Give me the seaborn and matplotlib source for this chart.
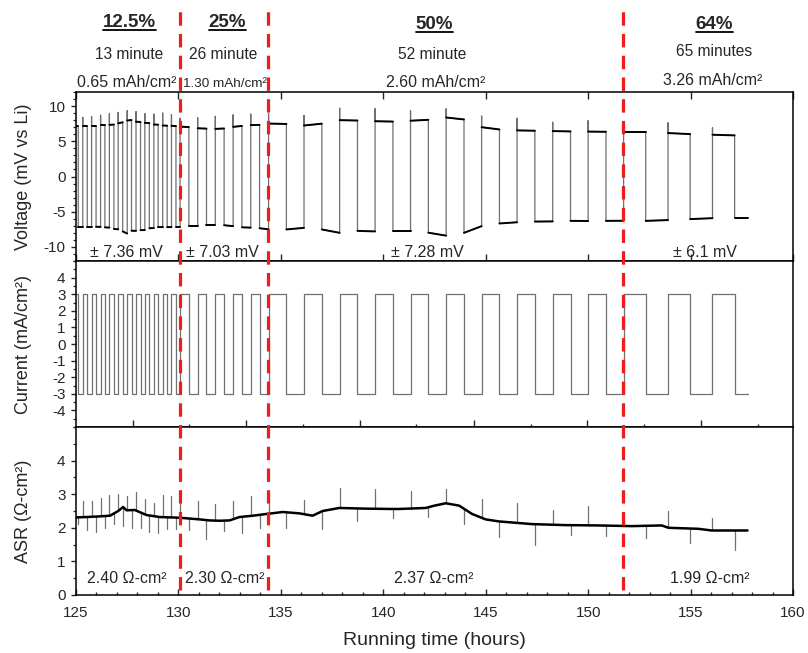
import numpy as np
import pandas as pd
import matplotlib
matplotlib.use("Agg")
import matplotlib.pyplot as plt
import matplotlib.transforms as mtransforms
from matplotlib.lines import Line2D
from matplotlib.ticker import MultipleLocator, FixedLocator, NullLocator
import seaborn as sns

sns.set_style("ticks")
plt.rcParams["font.family"] = ["Liberation Sans", "DejaVu Sans"]
plt.rcParams["axes.unicode_minus"] = False

# ---------------- data ----------------
t_start = 125.0
t_end = 157.78
current_levels = [3.0, -3.0]

# times where current switches from - to + (rises) and + to - (falls), hours
rise_times = [125.33, 125.76, 126.20, 126.63, 127.06, 127.50, 127.93, 128.36, 128.80, 129.23, 129.66,
              130.08, 130.94, 131.80, 132.67, 133.53,
              134.40, 136.13, 137.87, 139.60, 141.33, 143.07, 144.80, 146.53, 148.27, 150.00,
              151.73, 153.90, 156.07]
fall_times = [125.11, 125.55, 125.98, 126.41, 126.85, 127.28, 127.71, 128.15, 128.58, 129.01, 129.45, 129.88,
              130.51, 131.37, 132.23, 133.10, 133.96,
              135.27, 137.00, 138.74, 140.47, 142.20, 143.94, 145.67, 147.40, 149.14, 150.87,
              152.81, 154.98, 157.15]

# voltage plateaus (mV)
pos_start = [7.14,
             7.14, 7.20, 7.29, 7.33, 7.55, 7.95, 7.78, 7.62, 7.38, 7.24, 7.19,
             7.08, 6.85, 6.76, 7.05, 7.30,
             7.52, 7.24, 8.00, 7.85, 7.92, 8.38, 7.00, 6.55, 6.45, 6.38,
             6.35, 6.17, 5.93]
pos_end = [7.14,
           7.14, 7.20, 7.29, 7.38, 7.70, 8.02, 7.74, 7.58, 7.36, 7.22, 7.17,
           7.02, 6.80, 6.82, 7.18, 7.33,
           7.46, 7.50, 7.95, 7.80, 8.05, 8.10, 6.68, 6.50, 6.40, 6.35,
           6.35, 6.02, 5.84]
v_spike = [8.40, 8.52, 8.70, 8.92, 9.10, 9.35, 9.20, 8.92, 8.85, 9.00, 8.80,
           8.25, 8.35, 8.55, 8.75, 8.86,
           8.90, 8.67, 9.70, 9.62, 9.35, 9.60, 8.57, 8.26, 7.70, 7.92,
           6.60, 7.62, 6.95]
neg_start = [-7.14, -7.14, -7.14, -7.22, -7.45, -7.80, -7.70, -7.62, -7.35, -7.24, -7.19, -7.14,
             -7.00, -6.86, -6.92, -7.22, -7.35,
             -7.52, -7.52, -7.72, -7.76, -7.98, -8.00, -6.67, -6.40, -6.30, -6.30,
             -6.30, -6.05, -5.84]
neg_end = [-7.14, -7.14, -7.16, -7.26, -7.50, -8.10, -7.72, -7.60, -7.32, -7.24, -7.18, -7.14,
           -7.00, -6.86, -7.05, -7.26, -7.50,
           -7.29, -8.00, -7.80, -7.76, -8.40, -7.05, -6.50, -6.38, -6.32, -6.28,
           -6.19, -5.92, -5.84]

# ASR baseline (Ohm-cm2)
asr_t = [125.0, 125.5, 126.17, 126.66, 127.06, 127.3, 127.47, 127.87, 128.44, 129.09, 130.06,
         131.04, 131.5, 132.01, 132.5, 132.98, 133.63, 134.28, 135.09, 135.9, 136.55, 137.04,
         137.85, 139.15, 140.45, 140.77, 142.07, 142.5, 143.05, 143.7, 144.34, 145.0, 145.64,
         147.26, 148.89, 150.51, 152.13, 153.59, 153.92, 155.38, 156.03, 157.78]
asr_v = [2.31, 2.32, 2.34, 2.36, 2.50, 2.62, 2.52, 2.53, 2.38, 2.32, 2.30,
         2.25, 2.22, 2.21, 2.22, 2.32, 2.36, 2.41, 2.47, 2.43, 2.36, 2.50,
         2.59, 2.57, 2.56, 2.56, 2.59, 2.66, 2.73, 2.66, 2.41, 2.25, 2.19,
         2.11, 2.08, 2.07, 2.05, 2.07, 2.00, 1.97, 1.92, 1.92]
asr_up = [2.80, 2.80, 2.90, 2.98, 3.00, 2.95, 3.08, 2.87, 2.75, 2.97, 2.94,
          2.85, 2.80, 2.72, 2.80, 2.94,
          3.05, 2.82, 3.19, 3.15, 3.10, 3.15, 2.85, 2.75, 2.53, 2.65,
          2.30, 2.51, 2.28]
asr_down = [2.10,
            1.92, 1.88, 2.00, 2.11, 2.04, 1.98, 1.98, 1.87, 1.84, 1.95, 1.95,
            1.92, 1.67, 1.89, 1.85, 1.99,
            2.00, 1.97, 2.19, 2.30, 2.33, 2.11, 1.72, 1.50, 1.80, 1.77,
            1.70, 1.54, 1.33]

boundaries = [130.06, 134.36, 151.70]

rates = ["12.5%", "25%", "50%", "64%"]
durations = ["13 minute", "26 minute", "52 minute", "65 minutes"]
capacities = ["0.65 mAh/cm²", "1.30 mAh/cm²", "2.60 mAh/cm²", "3.26 mAh/cm²"]
volt_labels = ["± 7.36 mV", "± 7.03 mV", "± 7.28 mV", "± 6.1 mV"]
asr_labels = ["2.40 Ω-cm²", "2.30 Ω-cm²", "2.37 Ω-cm²", "1.99 Ω-cm²"]

# ---------------- build series ----------------
vt, vv = [t_start, fall_times[0]], [pos_start[0], pos_end[0]]
plat = [(0, t_start, pos_start[0]), (0, fall_times[0], pos_end[0])]
seg = 1
n = len(fall_times)
for i in range(n):
    f = fall_times[i]
    nxt = rise_times[i] if i < len(rise_times) else t_end
    vt += [f, nxt]
    vv += [neg_start[i], neg_end[i]]
    plat += [(seg, f, neg_start[i]), (seg, nxt, neg_end[i])]
    seg += 1
    if i < len(rise_times):
        f2 = fall_times[i + 1]
        vt += [nxt, nxt, f2]
        vv += [v_spike[i], pos_start[i + 1], pos_end[i + 1]]
        plat += [(seg, nxt, pos_start[i + 1]), (seg, f2, pos_end[i + 1])]
        seg += 1
volt_df = pd.DataFrame({"t": vt, "v": vv})
plat_df = pd.DataFrame(plat, columns=["seg", "t", "v"])

ct, cv = [t_start, fall_times[0]], [current_levels[0], current_levels[0]]
for i in range(n):
    f = fall_times[i]
    nxt = rise_times[i] if i < len(rise_times) else t_end
    ct += [f, nxt]
    cv += [current_levels[1], current_levels[1]]
    if i < len(rise_times):
        ct += [nxt, fall_times[i + 1]]
        cv += [current_levels[0], current_levels[0]]
cur_df = pd.DataFrame({"t": ct, "i": cv})

asr_df = pd.DataFrame({"t": asr_t, "asr": asr_v})
sp = []
k = 0
for tt, val in list(zip(rise_times, asr_up)) + list(zip(fall_times, asr_down)):
    base = float(np.interp(tt, asr_t, asr_v))
    sp += [(k, tt, base), (k, tt, val)]
    k += 1
spike_df = pd.DataFrame(sp, columns=["seg", "t", "asr"])

# ---------------- figure ----------------
W, H = 808, 653
fig = plt.figure(figsize=(W / 100, H / 100), dpi=100)
L = 76 / W
Wd = (793 - 76) / W
axV = fig.add_axes([L, 1 - 261 / H, Wd, 169 / H])
axI = fig.add_axes([L, 1 - 427 / H, Wd, 166 / H])
axA = fig.add_axes([L, 1 - 595 / H, Wd, 168 / H])

sns.lineplot(data=volt_df, x="t", y="v", sort=False, estimator=None, ax=axV,
             color="#707070", lw=0.9)
sns.lineplot(data=plat_df, x="t", y="v", units="seg", sort=False, estimator=None, ax=axV,
             color="black", lw=1.4)
sns.lineplot(data=cur_df, x="t", y="i", sort=False, estimator=None, ax=axI,
             color="#707070", lw=0.9)
sns.lineplot(data=spike_df, x="t", y="asr", units="seg", sort=False, estimator=None, ax=axA,
             color="#707070", lw=0.9)
sns.lineplot(data=asr_df, x="t", y="asr", sort=False, estimator=None, ax=axA,
             color="black", lw=1.8)

for ax in (axV, axI, axA):
    ax.set_xlim(125, 160)
    for s in ax.spines.values():
        s.set_visible(True)
        s.set_linewidth(1.1)
        s.set_color("black")
    ax.set_xlabel("")
    ax.tick_params(axis="y", which="major", direction="out", length=3.5, width=1.0,
                   labelsize=11, pad=4, left=True, right=False)
    ax.tick_params(axis="y", which="minor", direction="out", length=2, width=0.9,
                   left=True, right=False)

axV.set_ylim(-12, 12)
axV.yaxis.set_major_locator(FixedLocator([-10, -5, 0, 5, 10]))
axV.yaxis.set_minor_locator(MultipleLocator(1))
axV.xaxis.set_major_locator(MultipleLocator(5))
axV.xaxis.set_minor_locator(NullLocator())
axV.tick_params(axis="x", which="major", direction="in", top=True, bottom=True,
                labelbottom=False, length=5, width=1.0)

axI.set_ylim(-5, 5)
axI.yaxis.set_major_locator(FixedLocator(list(range(-4, 5))))
axI.yaxis.set_minor_locator(MultipleLocator(0.5))
axI.xaxis.set_major_locator(FixedLocator([127.76, 133.31, 138.86, 144.41, 149.96, 155.51]))
axI.xaxis.set_minor_locator(FixedLocator([130.52, 136.07, 141.62, 147.19, 152.75, 158.30]))
axI.tick_params(axis="x", which="major", direction="in", top=False, bottom=True,
                labelbottom=False, length=5, width=1.0)
axI.tick_params(axis="x", which="minor", direction="in", top=False, bottom=True, length=2.5, width=1.0)

axA.set_ylim(0, 5)
axA.yaxis.set_major_locator(FixedLocator([0, 1, 2, 3, 4]))
axA.yaxis.set_minor_locator(MultipleLocator(0.5))
axA.xaxis.set_major_locator(MultipleLocator(5))
axA.xaxis.set_minor_locator(MultipleLocator(1))
axA.tick_params(axis="x", which="major", direction="in", top=False, bottom=True,
                length=4, width=1.0, labelsize=11, pad=8)
axA.tick_params(axis="x", which="minor", direction="in", top=False, bottom=True, length=2.5, width=1.0)

axV.set_ylabel("Voltage (mV vs Li)", fontsize=13)
axI.set_ylabel("Current (mA/cm²)", fontsize=13)
axA.set_ylabel("ASR (Ω-cm²)", fontsize=13)
for ax in (axV, axI, axA):
    ax.yaxis.set_label_coords(-0.062, 0.5)
axA.set_xlabel("Running time (hours)", fontsize=14)
axA.xaxis.set_label_coords(0.5, -0.222)

# header texts (data x, axes-fraction y of the voltage panel)
trV = mtransforms.blended_transform_factory(axV.transData, axV.transAxes)
rate_x = [127.63, 132.40, 142.5, 156.16]
rate_y = [1.414, 1.414, 1.402, 1.402]
dur_x = [127.58, 132.2, 142.4, 156.16]
dur_y = [1.219, 1.219, 1.219, 1.237]
cap_x = [127.48, 132.25, 142.55, 156.06]
cap_y = [1.059, 1.047, 1.059, 1.071]
cap_fs = [11.5, 9.7, 11.5, 11.5]
rate_texts = []
for j in range(4):
    rate_texts.append(axV.text(rate_x[j], rate_y[j], rates[j], transform=trV, ha="center",
                               va="center", fontsize=13.5, fontweight="bold"))
    axV.text(dur_x[j], dur_y[j], durations[j], transform=trV, ha="center", va="center", fontsize=11.2)
    axV.text(cap_x[j], cap_y[j], capacities[j], transform=trV, ha="center", va="center", fontsize=cap_fs[j])

vlab_x = [127.48, 132.13, 142.14, 155.72]
for j in range(4):
    axV.text(vlab_x[j], -10.8, volt_labels[j], ha="center", va="center", fontsize=11.5)
alab_x = [127.48, 132.25, 142.48, 155.96]
for j in range(4):
    axA.text(alab_x[j], 0.50, asr_labels[j], ha="center", va="center", fontsize=11.5)

# red dashed region boundaries spanning all panels
trA = mtransforms.blended_transform_factory(axA.transData, axA.transAxes)
top_frac = (595 - 10) / 168
for b in boundaries:
    axA.plot([b, b], [0.03, top_frac], transform=trA, color="#ee1c1c", lw=2.3,
             dashes=(4.2, 2.6), clip_on=False, zorder=10)

# underline the bold rate headings
fig.canvas.draw()
rend = fig.canvas.get_renderer()
for t in rate_texts:
    bb = t.get_window_extent(rend)
    fig.add_artist(Line2D([bb.x0, bb.x1], [bb.y0 + 1.0, bb.y0 + 1.0],
                          transform=mtransforms.IdentityTransform(), color="black", lw=1.3))

fig.savefig("out.png", dpi=100)
